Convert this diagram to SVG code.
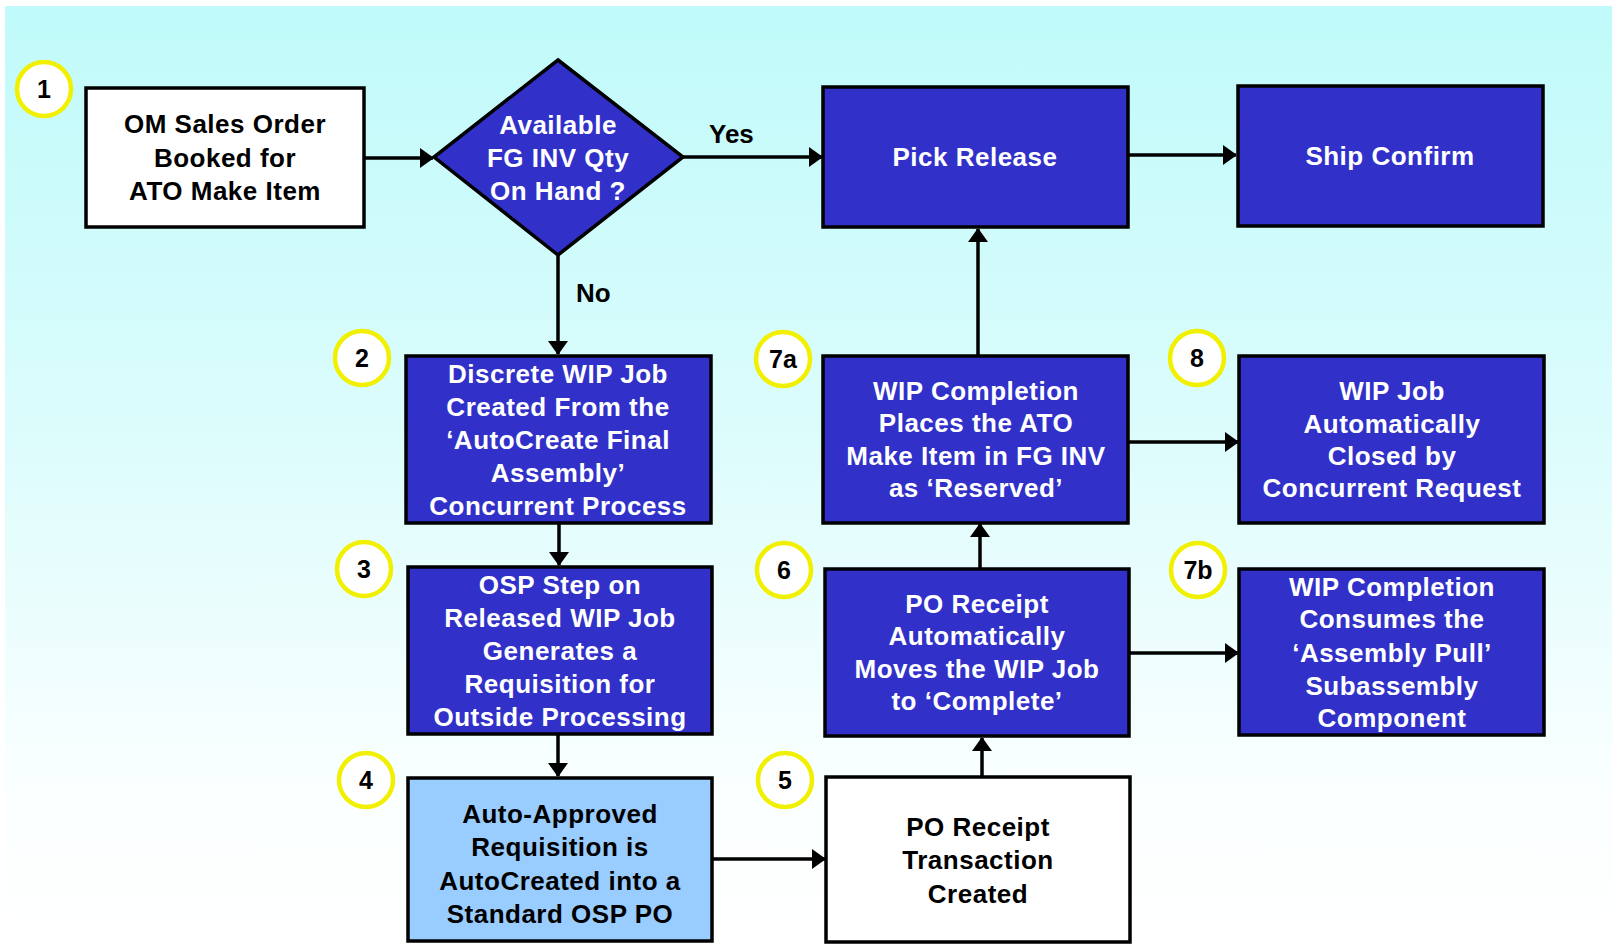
<svg xmlns="http://www.w3.org/2000/svg" width="1612" height="944" viewBox="0 0 1612 944">
<defs>
<linearGradient id="bg" x1="0" y1="0" x2="0" y2="1">
<stop offset="0" stop-color="#c0fafa"/>
<stop offset="0.45" stop-color="#dcfcfc"/>
<stop offset="0.85" stop-color="#fbffff"/>
<stop offset="1" stop-color="#ffffff"/>
</linearGradient>
<marker id="ah" viewBox="0 0 14 20" refX="13" refY="10" markerWidth="14" markerHeight="20" markerUnits="userSpaceOnUse" orient="auto">
<path d="M0,0 L14,10 L0,20 z" fill="#000"/>
</marker>
<style>
.box{stroke:#000;stroke-width:3.5}
.blue{fill:#3131c9}
.white{fill:#ffffff}
.light{fill:#99ccff}
.t{font-family:"Liberation Sans",Arial,sans-serif;font-weight:bold;font-size:26px;letter-spacing:0.5px;text-anchor:middle}
.tw{fill:#ffffff}
.tb{fill:#000000}
.circ{fill:#ffffff;stroke:#f0f000;stroke-width:4.5}
.num{font-family:"Liberation Sans",Arial,sans-serif;font-weight:bold;font-size:25px;text-anchor:middle;fill:#000}
.lbl{font-family:"Liberation Sans",Arial,sans-serif;font-weight:bold;font-size:26px;fill:#000}
.con{fill:none;stroke:#000;stroke-width:3.5;marker-end:url(#ah)}
</style>
</defs>
<rect x="0" y="0" width="1612" height="944" fill="#ffffff"/>
<rect x="5" y="6" width="1607" height="938" fill="url(#bg)"/>

<g id="connectors">
<path class="con" d="M364,158 L433,158"/>
<path class="con" d="M683,157 L822,157"/>
<path class="con" d="M1129,155 L1236,155"/>
<path class="con" d="M558,255 L558,354"/>
<path class="con" d="M559,524 L559,565"/>
<path class="con" d="M558,735 L558,776"/>
<path class="con" d="M712,859 L825,859"/>
<path class="con" d="M982,777 L982,738"/>
<path class="con" d="M980,568 L980,524"/>
<path class="con" d="M978,356 L978,229"/>
<path class="con" d="M1128,442 L1238,442"/>
<path class="con" d="M1129,653 L1238,653"/>
<text class="lbl" x="709" y="143">Yes</text>
<text class="lbl" x="576" y="302">No</text>
</g>

<g id="node1">
<rect class="box white" x="86" y="88" width="278" height="139"/>
<text class="t tb" x="225" y="133">OM Sales Order</text>
<text class="t tb" x="225" y="167">Booked for</text>
<text class="t tb" x="225" y="200">ATO Make Item</text>
<circle class="circ" cx="44" cy="89" r="27"/>
<text class="num" x="44" y="98">1</text>
</g>

<g id="decision">
<polygon class="box blue" points="558,60 683,157 558,255 434,157"/>
<text class="t tw" x="558" y="134">Available</text>
<text class="t tw" x="558" y="167">FG INV Qty</text>
<text class="t tw" x="558" y="200">On Hand ?</text>
</g>

<g id="pick-release">
<rect class="box blue" x="823" y="87" width="305" height="140"/>
<text class="t tw" x="975" y="166">Pick Release</text>
</g>

<g id="ship-confirm">
<rect class="box blue" x="1238" y="86" width="305" height="140"/>
<text class="t tw" x="1390" y="165">Ship Confirm</text>
</g>

<g id="node2">
<rect class="box blue" x="406" y="356" width="305" height="167"/>
<text class="t tw" x="558" y="383">Discrete WIP Job</text>
<text class="t tw" x="558" y="416">Created From the</text>
<text class="t tw" x="558" y="449">‘AutoCreate Final</text>
<text class="t tw" x="558" y="482">Assembly’</text>
<text class="t tw" x="558" y="515">Concurrent Process</text>
<circle class="circ" cx="362" cy="358" r="27"/>
<text class="num" x="362" y="367">2</text>
</g>

<g id="node3">
<rect class="box blue" x="408" y="567" width="304" height="167"/>
<text class="t tw" x="560" y="594">OSP Step on</text>
<text class="t tw" x="560" y="627">Released WIP Job</text>
<text class="t tw" x="560" y="660">Generates a</text>
<text class="t tw" x="560" y="693">Requisition for</text>
<text class="t tw" x="560" y="726">Outside Processing</text>
<circle class="circ" cx="364" cy="569" r="27"/>
<text class="num" x="364" y="578">3</text>
</g>

<g id="node4">
<rect class="box light" x="408" y="778" width="304" height="163"/>
<text class="t tb" x="560" y="823">Auto-Approved</text>
<text class="t tb" x="560" y="856">Requisition is</text>
<text class="t tb" x="560" y="890">AutoCreated into a</text>
<text class="t tb" x="560" y="923">Standard OSP PO</text>
<circle class="circ" cx="366" cy="780" r="27"/>
<text class="num" x="366" y="789">4</text>
</g>

<g id="node5">
<rect class="box white" x="826" y="777" width="304" height="165"/>
<text class="t tb" x="978" y="836">PO Receipt</text>
<text class="t tb" x="978" y="869">Transaction</text>
<text class="t tb" x="978" y="903">Created</text>
<circle class="circ" cx="785" cy="780" r="27"/>
<text class="num" x="785" y="789">5</text>
</g>

<g id="node6">
<rect class="box blue" x="825" y="569" width="304" height="167"/>
<text class="t tw" x="977" y="613">PO Receipt</text>
<text class="t tw" x="977" y="645">Automatically</text>
<text class="t tw" x="977" y="678">Moves the WIP Job</text>
<text class="t tw" x="977" y="710">to ‘Complete’</text>
<circle class="circ" cx="784" cy="570" r="27"/>
<text class="num" x="784" y="579">6</text>
</g>

<g id="node7a">
<rect class="box blue" x="823" y="356" width="305" height="167"/>
<text class="t tw" x="976" y="400">WIP Completion</text>
<text class="t tw" x="976" y="432">Places the ATO</text>
<text class="t tw" x="976" y="465">Make Item in FG INV</text>
<text class="t tw" x="976" y="497">as ‘Reserved’</text>
<circle class="circ" cx="783" cy="359" r="27"/>
<text class="num" x="783" y="368">7a</text>
</g>

<g id="node8">
<rect class="box blue" x="1239" y="356" width="305" height="167"/>
<text class="t tw" x="1392" y="400">WIP Job</text>
<text class="t tw" x="1392" y="433">Automatically</text>
<text class="t tw" x="1392" y="465">Closed by</text>
<text class="t tw" x="1392" y="497">Concurrent Request</text>
<circle class="circ" cx="1197" cy="358" r="27"/>
<text class="num" x="1197" y="367">8</text>
</g>

<g id="node7b">
<rect class="box blue" x="1239" y="569" width="305" height="166"/>
<text class="t tw" x="1392" y="596">WIP Completion</text>
<text class="t tw" x="1392" y="628">Consumes the</text>
<text class="t tw" x="1392" y="662">‘Assembly Pull’</text>
<text class="t tw" x="1392" y="695">Subassembly</text>
<text class="t tw" x="1392" y="727">Component</text>
<circle class="circ" cx="1198" cy="570" r="27"/>
<text class="num" x="1198" y="579">7b</text>
</g>
</svg>
